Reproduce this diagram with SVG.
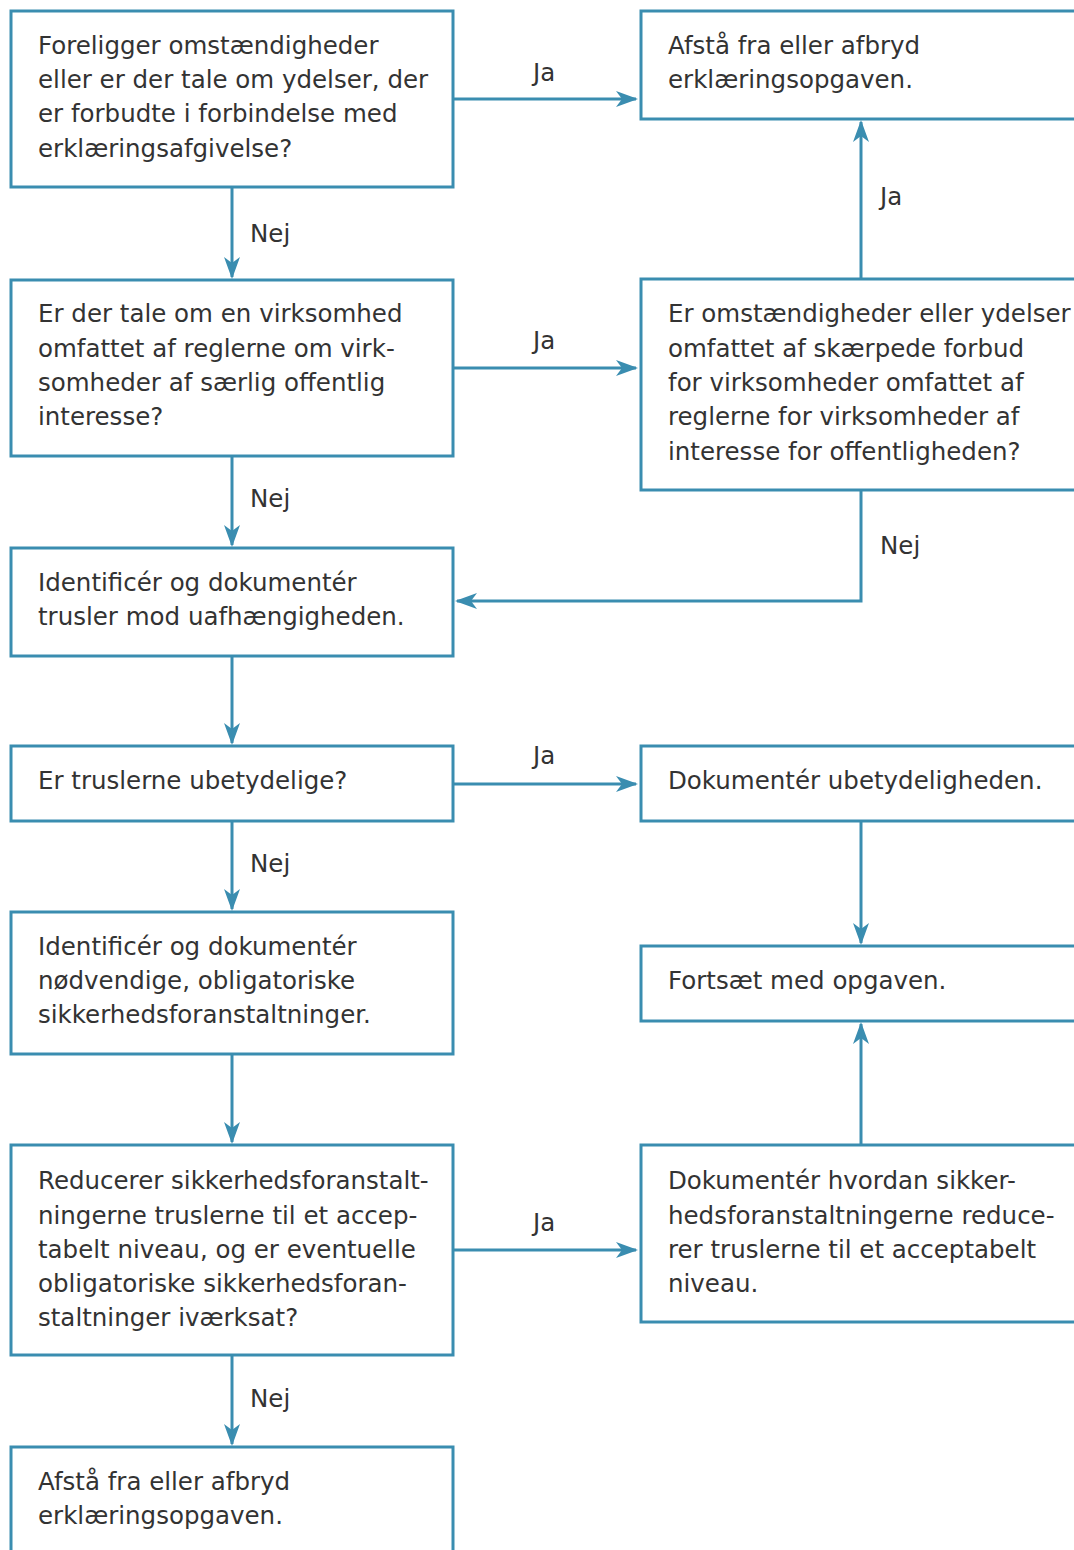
<svg xmlns="http://www.w3.org/2000/svg" width="1074" height="1550" viewBox="0 0 1074 1550">
<defs>
<style>
.box{fill:#fff;stroke:#3a8db0;stroke-width:3}
.t{font-family:"DejaVu Sans","Liberation Sans",sans-serif;font-size:24.5px;fill:#333}
.lbl{font-family:"DejaVu Sans","Liberation Sans",sans-serif;font-size:24.5px;fill:#333}
.c{fill:none;stroke:#3a8db0;stroke-width:3}
</style>
<marker id="ah" viewBox="0 0 22 16" refX="20" refY="8" markerWidth="22" markerHeight="16" markerUnits="userSpaceOnUse" orient="auto">
<path d="M0,0 L22,8 L0,16 L6,8 z" fill="#3a8db0"/>
</marker>
</defs>
<rect width="1074" height="1550" fill="#fff"/>
<g id="n1"><rect class="box" x="11" y="11" width="442" height="176"/>
<text class="t" x="38" y="54">Foreligger omstændigheder</text>
<text class="t" x="38" y="88">eller er der tale om ydelser, der</text>
<text class="t" x="38" y="122">er forbudte i forbindelse med</text>
<text class="t" x="38" y="157">erklæringsafgivelse?</text></g>
<g id="n2"><rect class="box" x="11" y="280" width="442" height="176"/>
<text class="t" x="38" y="322">Er der tale om en virksomhed</text>
<text class="t" x="38" y="357">omfattet af reglerne om virk-</text>
<text class="t" x="38" y="391">somheder af særlig offentlig</text>
<text class="t" x="38" y="425">interesse?</text></g>
<g id="n3"><rect class="box" x="11" y="548" width="442" height="108"/>
<text class="t" x="38" y="591">Identificér og dokumentér</text>
<text class="t" x="38" y="625">trusler mod uafhængigheden.</text></g>
<g id="n4"><rect class="box" x="11" y="746" width="442" height="75"/>
<text class="t" x="38" y="789">Er truslerne ubetydelige?</text></g>
<g id="n5"><rect class="box" x="11" y="912" width="442" height="142"/>
<text class="t" x="38" y="955">Identificér og dokumentér</text>
<text class="t" x="38" y="989">nødvendige, obligatoriske</text>
<text class="t" x="38" y="1023">sikkerhedsforanstaltninger.</text></g>
<g id="n6"><rect class="box" x="11" y="1145" width="442" height="210"/>
<text class="t" x="38" y="1189">Reducerer sikkerhedsforanstalt-</text>
<text class="t" x="38" y="1224">ningerne truslerne til et accep-</text>
<text class="t" x="38" y="1258">tabelt niveau, og er eventuelle</text>
<text class="t" x="38" y="1292">obligatoriske sikkerhedsforan-</text>
<text class="t" x="38" y="1326">staltninger iværksat?</text></g>
<g id="n7"><rect class="box" x="11" y="1447" width="442" height="120"/>
<text class="t" x="38" y="1490">Afstå fra eller afbryd</text>
<text class="t" x="38" y="1524">erklæringsopgaven.</text></g>
<g id="rA"><rect class="box" x="641" y="11" width="450" height="108"/>
<text class="t" x="668" y="54">Afstå fra eller afbryd</text>
<text class="t" x="668" y="88">erklæringsopgaven.</text></g>
<g id="rB"><rect class="box" x="641" y="279" width="450" height="211"/>
<text class="t" x="668" y="322">Er omstændigheder eller ydelser</text>
<text class="t" x="668" y="357">omfattet af skærpede forbud</text>
<text class="t" x="668" y="391">for virksomheder omfattet af</text>
<text class="t" x="668" y="425">reglerne for virksomheder af</text>
<text class="t" x="668" y="460">interesse for offentligheden?</text></g>
<g id="rC"><rect class="box" x="641" y="746" width="450" height="75"/>
<text class="t" x="668" y="789">Dokumentér ubetydeligheden.</text></g>
<g id="rD"><rect class="box" x="641" y="946" width="450" height="75"/>
<text class="t" x="668" y="989">Fortsæt med opgaven.</text></g>
<g id="rE"><rect class="box" x="641" y="1145" width="450" height="177"/>
<text class="t" x="668" y="1189">Dokumentér hvordan sikker-</text>
<text class="t" x="668" y="1224">hedsforanstaltningerne reduce-</text>
<text class="t" x="668" y="1258">rer truslerne til et acceptabelt</text>
<text class="t" x="668" y="1292">niveau.</text></g>
<g id="connectors">
<path class="c" d="M453,99 H636" marker-end="url(#ah)"/>
<path class="c" d="M232,187 V277" marker-end="url(#ah)"/>
<path class="c" d="M453,368 H636" marker-end="url(#ah)"/>
<path class="c" d="M861,279 V122" marker-end="url(#ah)"/>
<path class="c" d="M232,456 V545" marker-end="url(#ah)"/>
<path class="c" d="M861,490 V601 H457" marker-end="url(#ah)"/>
<path class="c" d="M232,656 V743" marker-end="url(#ah)"/>
<path class="c" d="M453,784 H636" marker-end="url(#ah)"/>
<path class="c" d="M232,821 V909" marker-end="url(#ah)"/>
<path class="c" d="M861,821 V943" marker-end="url(#ah)"/>
<path class="c" d="M232,1054 V1142" marker-end="url(#ah)"/>
<path class="c" d="M453,1250 H636" marker-end="url(#ah)"/>
<path class="c" d="M861,1145 V1024" marker-end="url(#ah)"/>
<path class="c" d="M232,1355 V1444" marker-end="url(#ah)"/>
<text class="lbl" x="533" y="81">Ja</text>
<text class="lbl" x="250" y="242">Nej</text>
<text class="lbl" x="533" y="349">Ja</text>
<text class="lbl" x="880" y="205">Ja</text>
<text class="lbl" x="250" y="507">Nej</text>
<text class="lbl" x="880" y="554">Nej</text>
<text class="lbl" x="533" y="764">Ja</text>
<text class="lbl" x="250" y="872">Nej</text>
<text class="lbl" x="533" y="1231">Ja</text>
<text class="lbl" x="250" y="1407">Nej</text>
</g>
</svg>
